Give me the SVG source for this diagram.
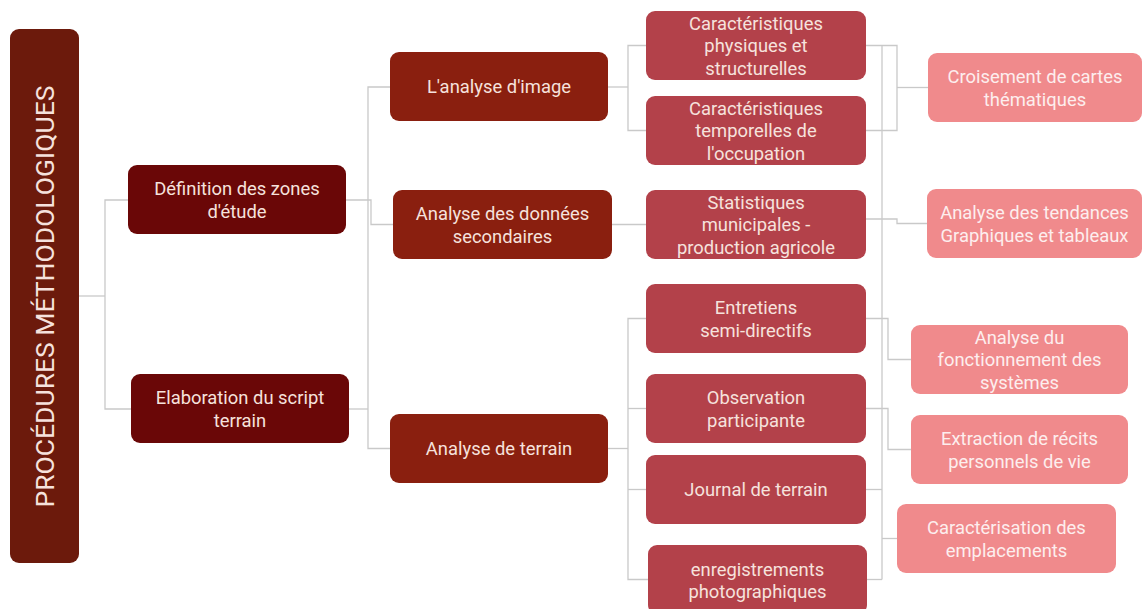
<svg xmlns="http://www.w3.org/2000/svg" width="1143" height="609" viewBox="0 0 1143 609">
<style>
text{font-family:Roboto,"Liberation Sans",sans-serif;font-size:18.4px;text-anchor:middle;fill:#f6e2dd}
.root{fill:#6c1a0c}
.l1{fill:#6a0707}
.l2{fill:#8a1f0f}
.l3{fill:#b3414a}
.l4{fill:#f08a8c}
.l4t{fill:#fdeeee}
#connectors path{fill:none;stroke:#c9c9c9;stroke-width:1.3}
</style>
<rect width="1143" height="609" fill="#ffffff"/>
<g id="connectors">
<path d="M79 296 H105"/>
<path d="M128 200 H105 V409 H131"/>
<path d="M346 200 H371 V224.5 H393"/>
<path d="M390 87 H368 V448.5 H390"/>
<path d="M349 409 H368"/>
<path d="M608 87 H628"/>
<path d="M646 45.5 H628 V130.5 H646"/>
<path d="M612 224.5 H646"/>
<path d="M608 448.5 H628"/>
<path d="M646 318.5 H628 V579.5 H648"/>
<path d="M628 408.5 H646"/>
<path d="M628 489.5 H646"/>
<path d="M866 45.5 H897 V130.5 H866"/>
<path d="M897 87.5 H928"/>
<path d="M882 45.5 V579.5"/>
<path d="M866 219 H897 V223.5 H927"/>
<path d="M866 318.5 H888 V359.5 H911"/>
<path d="M866 408.5 H888 V449.5 H911"/>
<path d="M866 489.5 H882"/>
<path d="M867 579.5 H882"/>
<path d="M882 538.5 H897"/>
</g>
<g id="root">
<rect class="root" x="10" y="29" width="69" height="534" rx="9"/>
<text transform="translate(53.5,296.5) rotate(-90)" style="font-size:26.5px">PROCÉDURES MÉTHODOLOGIQUES</text>
</g>
<g id="definition">
<rect class="l1" x="128" y="165" width="218" height="69" rx="9"/>
<text x="237" y="195">Définition des zones</text>
<text x="237" y="217.5">d'étude</text>
</g>
<g id="elaboration">
<rect class="l1" x="131" y="374" width="218" height="69" rx="9"/>
<text x="240" y="404">Elaboration du script</text>
<text x="240" y="426.5">terrain</text>
</g>
<g id="analyse-image">
<rect class="l2" x="390" y="52" width="218" height="69" rx="9"/>
<text x="499" y="93">L'analyse d'image</text>
</g>
<g id="analyse-donnees">
<rect class="l2" x="393" y="190" width="219" height="69" rx="9"/>
<text x="502.5" y="220">Analyse des données</text>
<text x="502.5" y="242.5">secondaires</text>
</g>
<g id="analyse-terrain">
<rect class="l2" x="390" y="414" width="218" height="69" rx="9"/>
<text x="499" y="455">Analyse de terrain</text>
</g>
<g id="caract-physiques">
<rect class="l3" x="646" y="11" width="220" height="69" rx="9"/>
<text x="756" y="29.5">Caractéristiques</text>
<text x="756" y="52">physiques et</text>
<text x="756" y="74.5">structurelles</text>
</g>
<g id="caract-temporelles">
<rect class="l3" x="646" y="96" width="220" height="69" rx="9"/>
<text x="756" y="114.5">Caractéristiques</text>
<text x="756" y="137">temporelles de</text>
<text x="756" y="159.5">l'occupation</text>
</g>
<g id="statistiques">
<rect class="l3" x="646" y="190" width="220" height="69" rx="9"/>
<text x="756" y="208.5">Statistiques</text>
<text x="756" y="231">municipales -</text>
<text x="756" y="253.5">production agricole</text>
</g>
<g id="entretiens">
<rect class="l3" x="646" y="284" width="220" height="69" rx="9"/>
<text x="756" y="314">Entretiens</text>
<text x="756" y="336.5">semi-directifs</text>
</g>
<g id="observation">
<rect class="l3" x="646" y="374" width="220" height="69" rx="9"/>
<text x="756" y="404">Observation</text>
<text x="756" y="426.5">participante</text>
</g>
<g id="journal">
<rect class="l3" x="646" y="455" width="220" height="69" rx="9"/>
<text x="756" y="496">Journal de terrain</text>
</g>
<g id="enregistrements">
<rect class="l3" x="648" y="545" width="219" height="69" rx="9"/>
<text x="757.5" y="575.5">enregistrements</text>
<text x="757.5" y="598">photographiques</text>
</g>
<g id="croisement">
<rect class="l4" x="928" y="53" width="214" height="69" rx="9"/>
<text class="l4t" x="1035" y="83">Croisement de cartes</text>
<text class="l4t" x="1035" y="105.5">thématiques</text>
</g>
<g id="tendances">
<rect class="l4" x="927" y="189" width="215" height="69" rx="9"/>
<text class="l4t" x="1034.5" y="219">Analyse des tendances</text>
<text class="l4t" x="1034.5" y="241.5">Graphiques et tableaux</text>
</g>
<g id="fonctionnement">
<rect class="l4" x="911" y="325" width="217" height="69" rx="9"/>
<text class="l4t" x="1019.5" y="343.5">Analyse du</text>
<text class="l4t" x="1019.5" y="366">fonctionnement des</text>
<text class="l4t" x="1019.5" y="388.5">systèmes</text>
</g>
<g id="extraction">
<rect class="l4" x="911" y="415" width="217" height="69" rx="9"/>
<text class="l4t" x="1019.5" y="445">Extraction de récits</text>
<text class="l4t" x="1019.5" y="467.5">personnels de vie</text>
</g>
<g id="caracterisation">
<rect class="l4" x="897" y="504" width="219" height="69" rx="9"/>
<text class="l4t" x="1006.5" y="534">Caractérisation des</text>
<text class="l4t" x="1006.5" y="556.5">emplacements</text>
</g>
</svg>
